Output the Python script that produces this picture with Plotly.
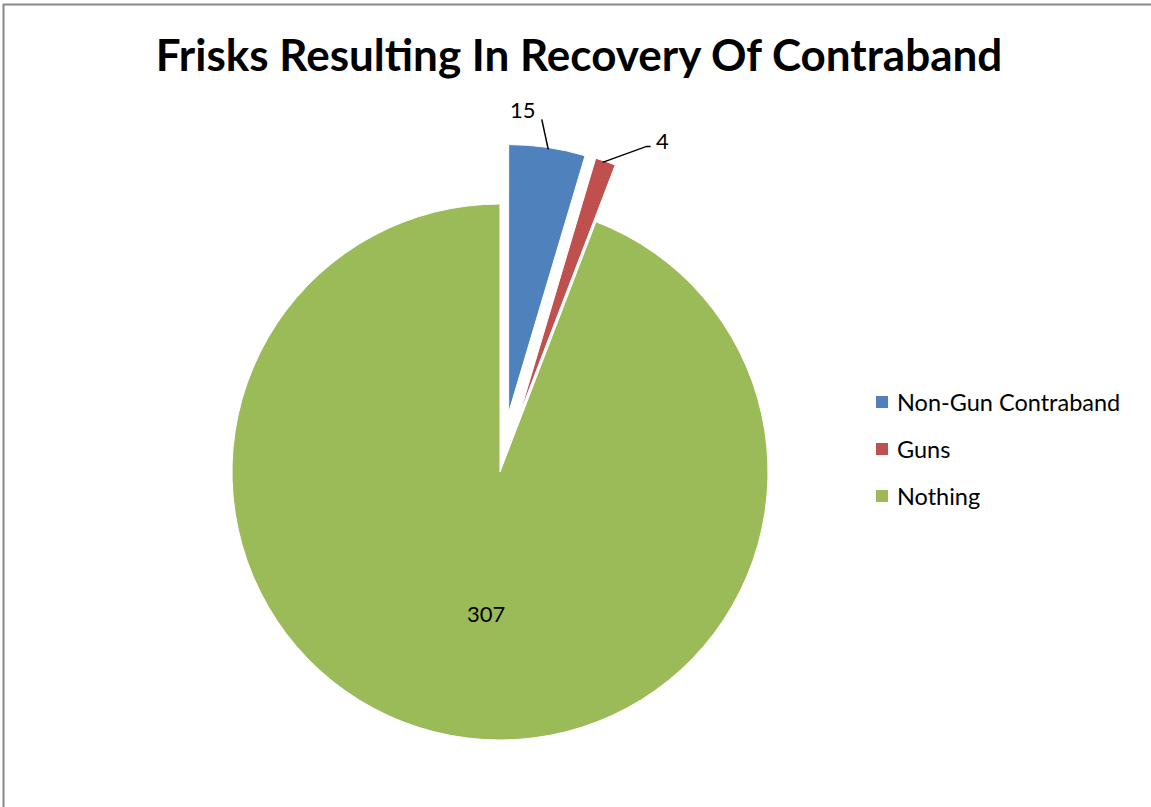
import math
import plotly.graph_objects as go

# Frisk outcomes
labels = ["Non-Gun Contraband", "Guns", "Nothing"]
values = [15, 4, 307]
colors = ["#4F81BD", "#C0504D", "#9BBB59"]
pulls = [0.224, 0.224, 0.0]

W, H = 1151, 807
FONT = "Lato"

# Pie geometry in pixels (centre and radius of the unpulled pie)
cx, cy, r = 500, 472, 268
max_pull = max(pulls)
half = r * (1 + max_pull)


def px_x(x):
    return x / W


def px_y(y):
    return 1 - y / H


fig = go.Figure()
fig.add_trace(go.Pie(
    labels=labels,
    values=values,
    marker=dict(colors=colors, line=dict(color="white", width=1)),
    pull=pulls,
    sort=False,
    direction="clockwise",
    rotation=0,
    textinfo="none",
    showlegend=False,
    domain=dict(x=[px_x(cx - half), px_x(cx + half)],
                y=[px_y(cy + half), px_y(cy - half)]),
))

# Value labels computed from slice angles
total = sum(values)
angles = []
acc = 0
for v in values:
    a0 = acc / total * 2 * math.pi
    acc += v
    a1 = acc / total * 2 * math.pi
    angles.append((a0, a1))


def slice_point(i, frac, ang=None):
    a0, a1 = angles[i]
    a = (a0 + a1) / 2 if ang is None else ang
    off = pulls[i] * r
    x = cx + (off + frac * r) * math.sin(a)
    y = cy - (off + frac * r) * math.cos(a)
    return x, y


annotations = []
shapes = []
num_font = dict(family=FONT, size=22, color="black")

# "15" label with leader line
bx, by = slice_point(0, 1.0)
shapes.append(dict(type="line", xref="paper", yref="paper",
                   x0=px_x(bx + 1), y0=px_y(by + 2), x1=px_x(bx - 5.5), y1=px_y(by - 28),
                   line=dict(color="black", width=1.5)))
annotations.append(dict(x=px_x(bx - 24), y=px_y(by - 38), xref="paper", yref="paper",
                        xanchor="center", yanchor="middle",
                        text=str(values[0]), showarrow=False, font=num_font))

# "4" label with leader line
gx, gy = slice_point(1, 1.0)
shapes.append(dict(type="path", xref="paper", yref="paper",
                   path="M {},{} L {},{} L {},{}".format(
                       px_x(gx - 3), px_y(gy + 1), px_x(gx + 41), px_y(gy - 15),
                       px_x(gx + 45), px_y(gy - 15)),
                   line=dict(color="black", width=1.5)))
annotations.append(dict(x=px_x(gx + 48), y=px_y(gy - 21), xref="paper", yref="paper",
                        xanchor="left", yanchor="middle",
                        text=str(values[1]), showarrow=False, font=num_font))

# "307" inside label
a0, a1 = angles[2]
tx, ty = slice_point(2, 0.53, ang=a0 + (a1 - a0) * 0.486)
annotations.append(dict(x=px_x(tx), y=px_y(ty), xref="paper", yref="paper",
                        xanchor="center", yanchor="middle",
                        text=str(values[2]), showarrow=False, font=num_font))

# Legend drawn as squares and text
leg_x, leg_y0, leg_gap, sq = 876, 402, 47, 12
for i, (lab, col) in enumerate(zip(labels, colors)):
    yy = leg_y0 + i * leg_gap
    shapes.append(dict(type="rect", xref="paper", yref="paper",
                       x0=px_x(leg_x), x1=px_x(leg_x + sq),
                       y0=px_y(yy + sq / 2), y1=px_y(yy - sq / 2),
                       fillcolor=col, line=dict(width=0)))
    annotations.append(dict(x=px_x(leg_x + 19), y=px_y(yy), xref="paper", yref="paper",
                            xanchor="left", yanchor="middle", text=lab, showarrow=False,
                            font=dict(family=FONT, size=23.5, color="black")))

# Outer frame
shapes.append(dict(type="rect", xref="paper", yref="paper",
                   x0=px_x(3.5), y0=px_y(4.5), x1=px_x(W + 10), y1=px_y(H + 10),
                   line=dict(color="#888888", width=2), fillcolor="rgba(0,0,0,0)"))

fig.update_layout(
    width=W, height=H,
    margin=dict(l=0, r=0, t=0, b=0),
    paper_bgcolor="white",
    plot_bgcolor="white",
    title=dict(text="<b>Frisks Resulting In Recovery Of Contraband</b>",
               x=px_x(579), y=px_y(56), xanchor="center", yanchor="middle",
               font=dict(family=FONT, size=44, color="black")),
    annotations=annotations,
    shapes=shapes,
)

fig.write_html("out.html")
